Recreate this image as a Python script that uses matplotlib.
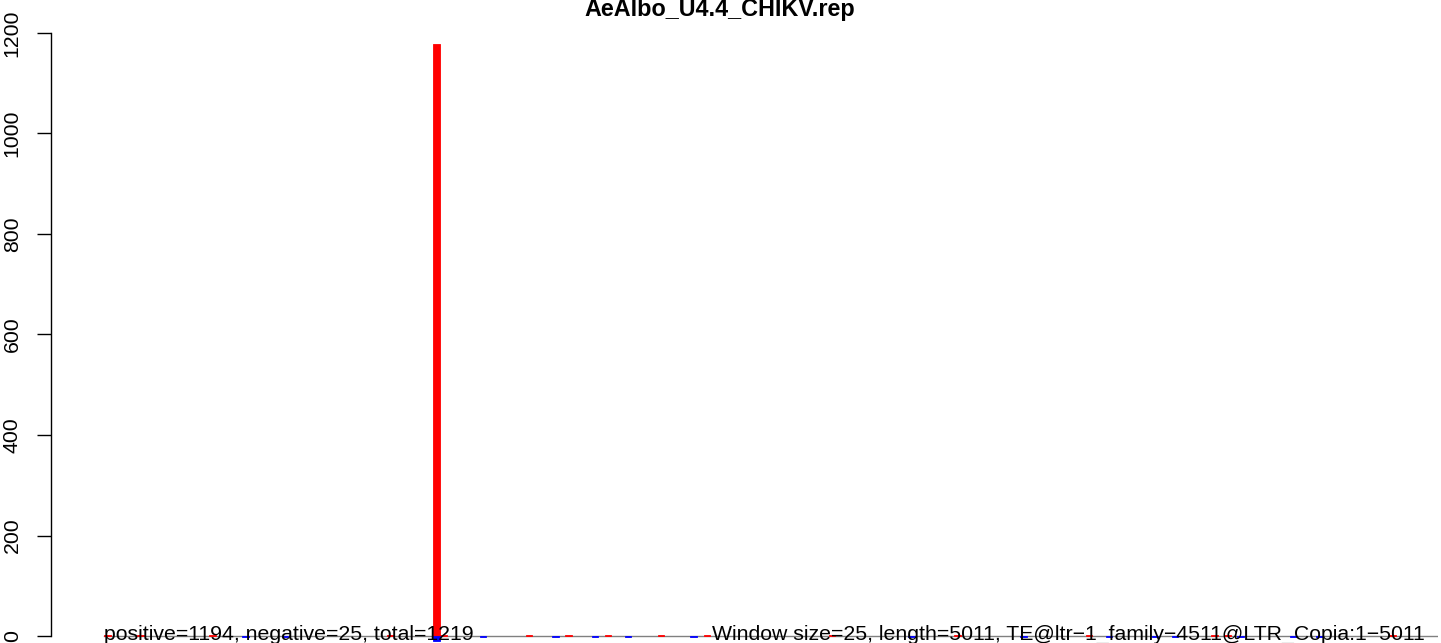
import matplotlib
matplotlib.use("Agg")
import matplotlib.pyplot as plt

# ---- data (bin start positions, window size 25) ----
title = "AeAlbo_U4.4_CHIKV.rep"
window = 25
seq_length = 5011
pos_bins = [0, 125, 400, 1075, 1250, 1275, 1600, 1750, 1900, 2100, 2275,
            2750, 3225, 3725, 4200, 4250, 4875]
pos_counts = [1, 1, 1, 1, 1178, 1, 1, 1, 1, 1, 1, 1, 1, 1, 1, 1, 1]
neg_bins = [525, 675, 1250, 1425, 1700, 1850, 1975, 2225, 3050, 3475, 3800,
            3975, 4050, 4300, 4500, 4600]
neg_counts = [-1, -1, -10, -1, -1, -1, -1, -1, -1, -1, -1, -1, -1, -1, -1, -1]
yticks = [0, 200, 400, 600, 800, 1000, 1200]
left_label = "positive=1194, negative=25, total=1219"
right_label = "Window size=25, length=5011, TE@ltr\u22121_family\u22124511@LTR_Copia:1\u22125011"

plt.rcParams['font.family'] = ['Liberation Sans', 'DejaVu Sans']

W, H = 1441, 643
fig = plt.figure(figsize=(W / 100, H / 100), dpi=100)
# axes spans px 51..1438 horizontally, full height
ax = fig.add_axes([51 / W, 0, (1438 - 51) / W, 1])
ax.set_xlim(-201, 5061)
ax.set_ylim(-13.93, 1265.67)

ax.plot([0, 5061], [0, 0], color='#808080', lw=1.0, zorder=1)

pos_x = [b + window / 2 for b in pos_bins]
neg_x = [b + window / 2 for b in neg_bins]
ax.bar(pos_x, pos_counts, width=window, color='#FF0000', edgecolor='#FF0000',
       linewidth=0.6, zorder=2)
ax.bar(neg_x, neg_counts, width=window, color='#0000FF', edgecolor='#0000FF',
       linewidth=0.6, zorder=2)

ax.text(0, -8, left_label, ha='left', va='baseline', fontsize=15.3, zorder=3)
ax.text(seq_length, -8, right_label, ha='right', va='baseline', fontsize=15.3, zorder=3)

for s in ['top', 'right', 'bottom']:
    ax.spines[s].set_visible(False)
ax.spines['left'].set_bounds(0, 1200)
ax.spines['left'].set_linewidth(1.0)
ax.set_yticks(yticks)
ax.set_yticklabels([str(t) for t in yticks], rotation=90, va='center', fontsize=15.3)
ax.tick_params(axis='y', length=10, width=1.0, pad=11)
ax.set_xticks([])
ax.patch.set_alpha(0)

fig.text(720 / W, 1 - 16 / H, title, ha='center', va='baseline',
         fontsize=16.8, fontweight='bold')

fig.savefig("out.png", dpi=100)
